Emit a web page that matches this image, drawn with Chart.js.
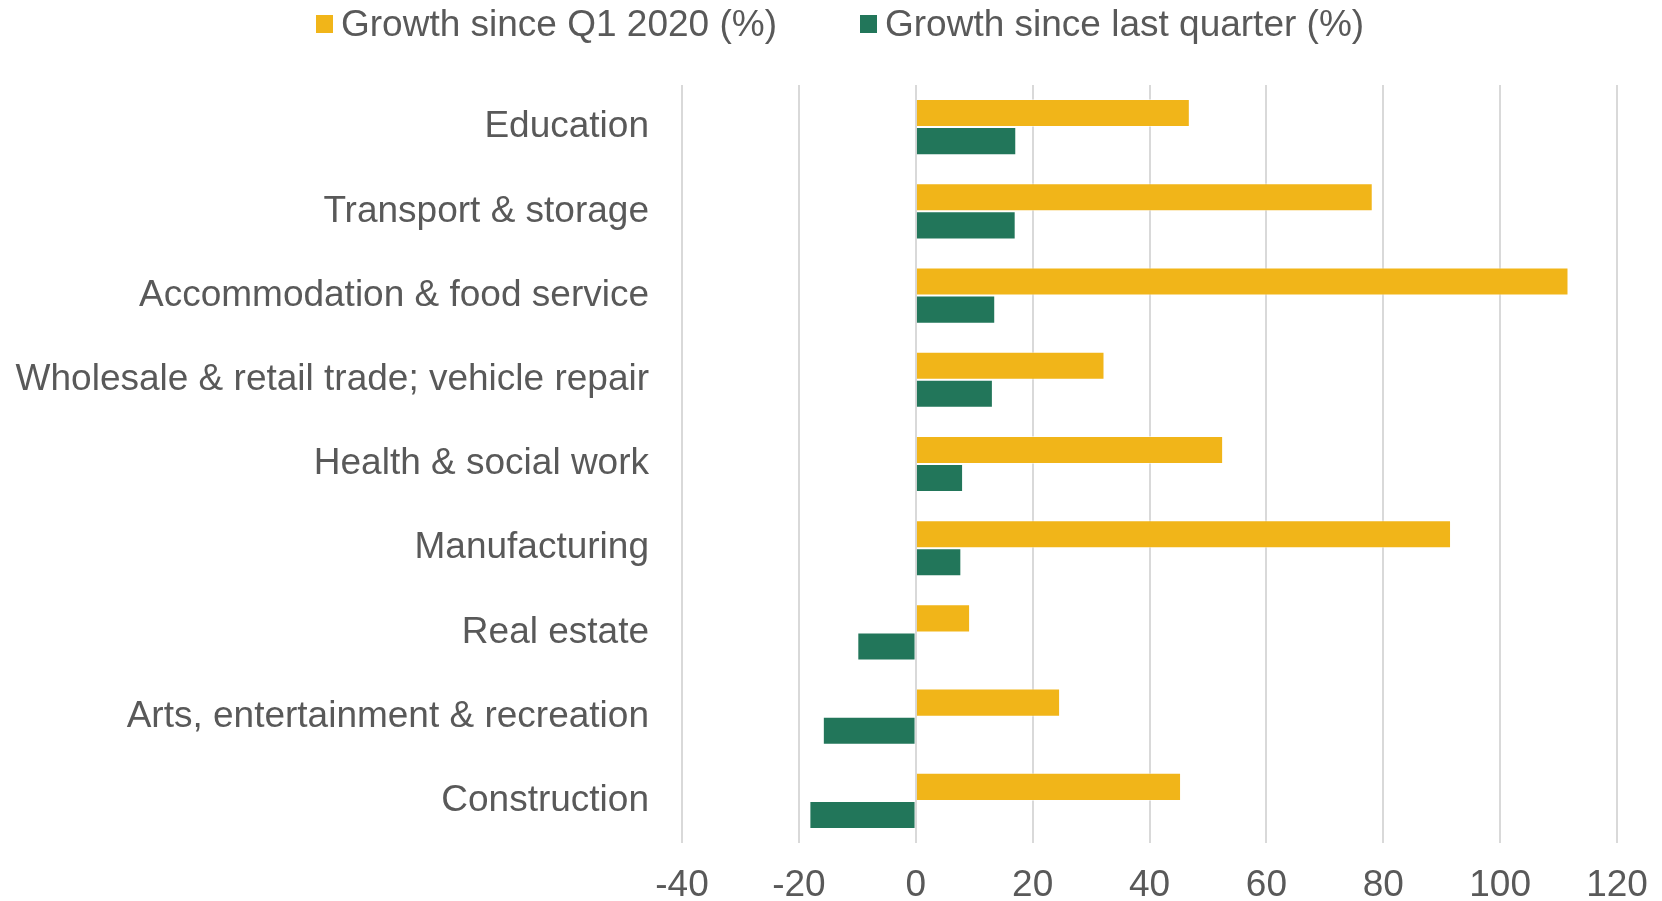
<!DOCTYPE html>
<html>
<head>
<meta charset="utf-8">
<script src="https://cdn.jsdelivr.net/npm/chart.js@4.4.0/dist/chart.umd.min.js"></script>
<style>
    body { margin: 0; background: #fff; }
    #wrap { position: relative; width: 1662px; height: 901px; }
    .legend-item { position: absolute; top: 0; height: 48px; display: flex; align-items: center;
        font-family: "Liberation Sans", Arial, sans-serif; font-size: 37px; color: #595959; white-space: nowrap; }
    .legend-box { width: 17px; height: 18px; margin-right: 8px; }
</style>
</head>
<body>
<div id="wrap">
    <canvas id="growthChart" width="1662" height="901"></canvas>
    <div class="legend-item" style="left:316px"><span class="legend-box" style="background:#F1B519"></span>Growth since Q1 2020 (%)</div>
    <div class="legend-item" style="left:860px"><span class="legend-box" style="background:#22765A"></span>Growth since last quarter (%)</div>
</div>
<script>
const sectors = [
    'Education',
    'Transport & storage',
    'Accommodation & food service',
    'Wholesale & retail trade; vehicle repair',
    'Health & social work',
    'Manufacturing',
    'Real estate',
    'Arts, entertainment & recreation',
    'Construction'
];
const growthSinceQ1 = [46.9, 78.2, 111.7, 32.3, 52.6, 91.6, 9.3, 24.7, 45.4];
const growthSinceLastQuarter = [17.2, 17.1, 13.6, 13.2, 8.1, 7.8, -10.0, -15.9, -18.2];
const xTicks = [-40, -20, 0, 20, 40, 60, 80, 100, 120];

const textColor = '#595959';
const fontFamily = '"Liberation Sans", Arial, sans-serif';

const ctx = document.getElementById('growthChart').getContext('2d');
new Chart(ctx, {
    type: 'bar',
    data: {
        labels: sectors,
        datasets: [{
            label: 'Growth since Q1 2020 (%)',
            data: growthSinceQ1,
            backgroundColor: '#F1B519',
            borderColor: 'rgba(255,255,255,0.5)',
            borderWidth: 1
        }, {
            label: 'Growth since last quarter (%)',
            data: growthSinceLastQuarter,
            backgroundColor: '#22765A',
            borderColor: 'rgba(255,255,255,0.5)',
            borderWidth: 1
        }]
    },
    options: {
        indexAxis: 'y',
        responsive: false,
        animation: false,
        categoryPercentage: 0.667,
        barPercentage: 1,
        layout: {
            padding: { top: 85, right: 45, bottom: 0, left: 0 }
        },
        plugins: {
            legend: { display: false },
            tooltip: { enabled: false }
        },
        scales: {
            x: {
                min: xTicks[0],
                max: xTicks[xTicks.length - 1],
                afterBuildTicks: scale => {
                    scale.ticks = xTicks.map(v => ({ value: v }));
                },
                afterFit: scale => {
                    scale.height = 58;
                    scale.paddingLeft = 0;
                    scale.paddingRight = 0;  // sinon le dernier label ajoute de la marge
                },
                grid: { color: '#d9d9d9', lineWidth: 2, drawTicks: false },
                border: { display: false },
                ticks: {
                    padding: 21,
                    color: textColor,
                    font: { family: fontFamily, size: 37 }
                }
            },
            y: {
                afterFit: scale => { scale.width = 682; },
                grid: { display: false, drawTicks: false },
                border: { display: false },
                ticks: {
                    padding: 33,
                    color: textColor,
                    font: { family: fontFamily, size: 37 }
                }
            }
        }
    }
});
</script>
</body>
</html>
